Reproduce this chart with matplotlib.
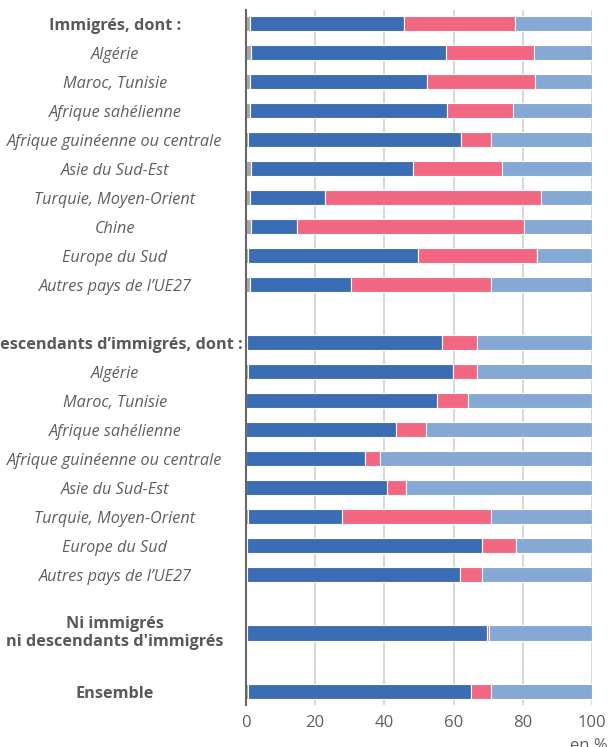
import matplotlib
matplotlib.use("Agg")
import matplotlib.pyplot as plt
import numpy as np

plt.rcParams['font.family'] = ['Open Sans', 'DejaVu Sans']

# rows from top to bottom; None marks an empty spacer row
labels = [
    "Immigrés, dont :", "Algérie", "Maroc, Tunisie", "Afrique sahélienne",
    "Afrique guinéenne ou centrale", "Asie du Sud-Est", "Turquie, Moyen-Orient",
    "Chine", "Europe du Sud", "Autres pays de l’UE27",
    None,
    "Descendants d’immigrés, dont :", "Algérie", "Maroc, Tunisie", "Afrique sahélienne",
    "Afrique guinéenne ou centrale", "Asie du Sud-Est", "Turquie, Moyen-Orient",
    "Europe du Sud", "Autres pays de l’UE27",
    None,
    "Ni immigrés\nni descendants d'immigrés",
    None,
    "Ensemble",
]
bold_labels = ["Immigrés, dont :", "Descendants d’immigrés, dont :",
               "Ni immigrés\nni descendants d'immigrés", "Ensemble"]

# shares in %, one value per non-empty row
gris = [1.2, 1.6, 1.1, 1.1, 0.6, 1.6, 1.1, 1.6, 0.6, 1.1,
        0.3, 0.6, 0.1, 0.1, 0.1, 0.1, 0.8, 0.3, 0.3,
        0.3, 0.7]
bleu = [44.5, 56.2, 51.2, 57.0, 61.5, 46.8, 21.8, 13.2, 49.2, 29.4,
        56.4, 59.3, 55.2, 43.4, 34.3, 40.6, 27.0, 67.9, 61.6,
        69.3, 64.2]
rose = [32.1, 25.4, 31.2, 18.9, 8.6, 25.6, 62.4, 65.6, 34.3, 40.2,
        10.1, 6.9, 8.8, 8.5, 4.4, 5.6, 42.9, 9.7, 6.4,
        0.5, 5.9]
bleu_clair = [22.2, 16.8, 16.5, 23.0, 29.3, 26.0, 14.7, 19.6, 15.9, 29.3,
              33.2, 33.2, 35.9, 48.0, 61.2, 53.7, 29.3, 22.1, 31.7,
              29.9, 29.2]

colors = ["#a6a6a6", "#3b6db4", "#f26781", "#86a8d5"]
grey_txt = "#5f5f5f"

pos = np.array([i for i, l in enumerate(labels) if l is not None])
names = [l for l in labels if l is not None]

fig = plt.figure(figsize=(6.08, 7.47), dpi=100)
ax = fig.add_axes([245.7 / 608, 1 - 705 / 747, 346.6 / 608, 695 / 747])

left = np.zeros(len(pos))
for vals, c in zip([gris, bleu, rose, bleu_clair], colors):
    vals = np.array(vals)
    ax.barh(pos, vals, left=left, height=0.52, color=c,
            edgecolor="white", linewidth=0.8, zorder=3)
    left += vals

ax.set_xlim(0, 100)
ax.set_ylim(23.48, -0.45)
ax.set_xticks([0, 20, 40, 60, 80, 100])
ax.set_yticks([])
ax.grid(axis="x", color="#d4d4d4", linewidth=1.3, zorder=0)
ax.tick_params(axis="x", length=0, pad=7, labelsize=12, labelcolor=grey_txt)
for s in ["top", "right", "bottom"]:
    ax.spines[s].set_visible(False)
ax.spines["left"].set_color("#666666")
ax.spines["left"].set_linewidth(1.5)
ax.spines["left"].set_zorder(4)

# row labels left of the axis, centred on one column
for y, name in zip(pos, names):
    dy = 0 if "\n" in name else -2.5
    if name in bold_labels:
        style = dict(fontweight="bold", color="#595959")
    else:
        style = dict(style="italic", color=grey_txt)
    ax.annotate(name, (115 / 608, y), xycoords=("figure fraction", "data"),
                xytext=(0, dy), textcoords="offset pixels",
                ha="center", va="center", fontsize=11.7, linespacing=1.2,
                annotation_clip=False, **style)

fig.text(570 / 608, 1 - 738 / 747, "en %", ha="left", va="top",
         fontsize=12, color=grey_txt)

fig.savefig("out.png", dpi=100)
